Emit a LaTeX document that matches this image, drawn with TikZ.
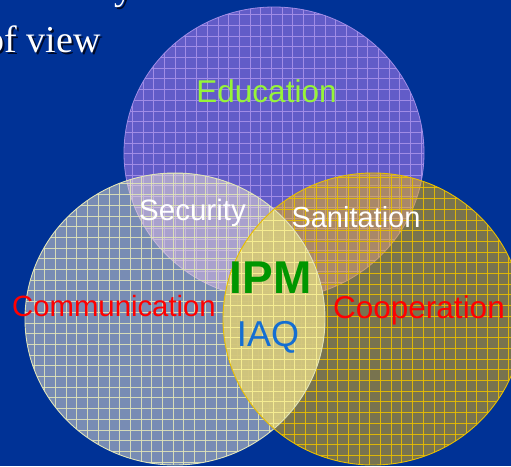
\documentclass[tikz,border=0pt]{standalone}
\usepackage{fontspec}
\setmainfont{Liberation Sans}
\newfontfamily\serifx{Liberation Serif}
\begin{document}
\begin{tikzpicture}[x=1pt,y=-1pt,
  lab/.style={inner sep=0pt, anchor=base},
  titletxt/.style={inner sep=0pt, anchor=base east, font=\serifx\fontsize{38}{40}\selectfont},
  gridln/.style={line width=0.85pt}]
\definecolor{bg}{RGB}{0,50,150}
\definecolor{purpfill}{RGB}{98,92,200}
\definecolor{purpline}{RGB}{160,140,230}
\definecolor{leftfill}{RGB}{240,230,210}
\definecolor{leftline}{RGB}{225,228,185}
\definecolor{rightfill}{RGB}{240,180,10}
\definecolor{rightline}{RGB}{232,190,0}
\definecolor{lensfill}{RGB}{210,200,128}
\definecolor{lensline}{RGB}{245,236,145}
\definecolor{edugreen}{RGB}{150,245,55}
\definecolor{ipmgreen}{RGB}{0,150,0}
\definecolor{iaqblue}{RGB}{20,110,210}
\definecolor{shadowc}{RGB}{0,10,40}
\useasboundingbox (0,0) rectangle (511,466);
\fill[bg] (0,0) rectangle (511,466);
% top circle
\begin{scope}
  \clip (274,153) ellipse [x radius=150pt, y radius=146pt];
  \fill[purpfill] (0,0) rectangle (511,466);
  \foreach \g in {4,14.7,...,511} \draw[purpline, gridln] (\g,0) -- (\g,466);
  \foreach \g in {4,14.7,...,466} \draw[purpline, gridln] (0,\g) -- (511,\g);
\end{scope}
\draw[purpline, line width=0.8pt] (274,153) ellipse [x radius=150pt, y radius=146pt];
% left circle
\begin{scope}
  \clip (175,319) ellipse [x radius=150pt, y radius=146pt];
  \fill[leftfill, fill opacity=0.5] (0,0) rectangle (511,466);
  \foreach \g in {2,12.7,...,511} \draw[leftline, gridln, draw opacity=0.9] (\g,0) -- (\g,466);
  \foreach \g in {2,12.7,...,466} \draw[leftline, gridln, draw opacity=0.9] (0,\g) -- (511,\g);
\end{scope}
% right circle
\begin{scope}
  \clip (373,319) ellipse [x radius=150pt, y radius=146pt];
  \fill[rightfill, fill opacity=0.5] (0,0) rectangle (511,466);
  \foreach \g in {6,16.7,...,511} \draw[rightline, gridln, draw opacity=0.9] (\g,0) -- (\g,466);
  \foreach \g in {6,16.7,...,466} \draw[rightline, gridln, draw opacity=0.9] (0,\g) -- (511,\g);
\end{scope}
% lens where left and right circles overlap
\begin{scope}
  \clip (175,319) ellipse [x radius=150pt, y radius=146pt];
  \clip (373,319) ellipse [x radius=150pt, y radius=146pt];
  \fill[lensfill, fill opacity=0.92] (0,0) rectangle (511,466);
  \foreach \g in {6,16.7,...,511} \draw[lensline, gridln] (\g,0) -- (\g,466);
  \foreach \g in {6,16.7,...,466} \draw[lensline, gridln] (0,\g) -- (511,\g);
\end{scope}
\draw[leftline, line width=0.9pt] (175,319) ellipse [x radius=150pt, y radius=146pt];
\draw[rightline, line width=0.9pt] (373,319) ellipse [x radius=150pt, y radius=146pt];
% title text (partly outside the slide area)
\node[titletxt, anchor=base west, text=shadowc] (ysh) at (116,1) {y};
\node[titletxt, anchor=base west, text=white] (ytx) at (114,-1) {y};
\node[titletxt, text=shadowc] (ofsh) at (103,54) {of view};
\node[titletxt, text=white] (oftx) at (101,52) {of view};
% labels
\node[lab, text=edugreen, font=\fontsize{31.5}{34}\selectfont] (edu) at (266.5,102) {Education};
\node[lab, text=white, font=\fontsize{29.5}{32}\selectfont] (sec) at (192.5,220) {Security};
\node[lab, text=white, font=\fontsize{29}{32}\selectfont] (san) at (356,227) {Sanitation};
\node[lab, text=red, font=\fontsize{29.3}{32}\selectfont] (com) at (114,316) {Communication};
\node[lab, text=red, font=\fontsize{31.5}{34}\selectfont] (coo) at (419,318) {Cooperation};
\node[lab, text=ipmgreen, font=\bfseries\fontsize{46}{48}\selectfont] (ipm) at (270.5,293) {IPM};
\node[lab, text=iaqblue, font=\fontsize{36}{38}\selectfont] (iaq) at (268,346) {IAQ};
\end{tikzpicture}
\end{document}
